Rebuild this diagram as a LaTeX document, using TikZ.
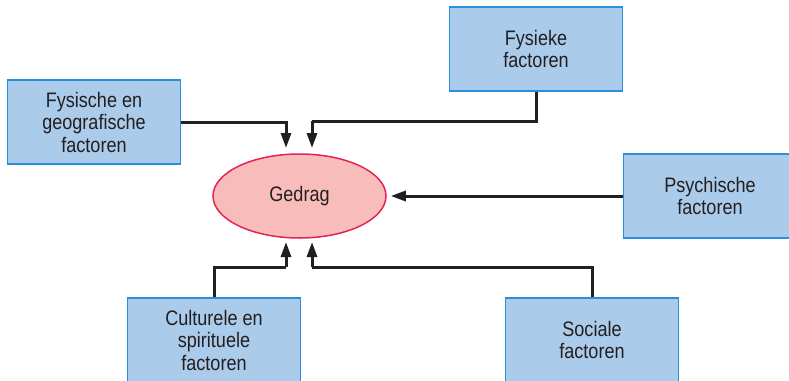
\documentclass[tikz,border=0pt]{standalone}
\usepackage{fontspec}
\setmainfont[FakeStretch=0.86]{Liberation Sans}
\usetikzlibrary{shapes.geometric,arrows.meta}
\definecolor{boxfill}{HTML}{ABCBEA}
\definecolor{boxline}{HTML}{2A8FD6}
\definecolor{ellfill}{HTML}{F8BDBA}
\definecolor{ellline}{HTML}{E3245A}
\definecolor{ink}{HTML}{231F20}
\tikzset{
  factor/.style={draw=boxline, fill=boxfill, line width=1.5pt, minimum width=173pt, minimum height=84pt,
    inner sep=0pt, align=center, text=ink, font=\fontsize{21}{22.5}\selectfont},
  gedrag/.style={ellipse, draw=ellline, fill=ellfill, line width=1.5pt, minimum width=173pt, minimum height=84pt,
    inner sep=0pt, text=ink, font=\fontsize{21}{22.5}\selectfont},
  arr/.style={draw=ink, line width=3pt, -{Triangle[length=15pt,width=10pt]}},
  conn/.style={draw=ink, line width=3pt}
}
\begin{document}
\begin{tikzpicture}[x=1pt,y=-1pt]
\useasboundingbox (0,0) rectangle (789,380);
\node[gedrag] (e) at (299.5,196) {Gedrag};
\node[factor] (b1) at (94,122) {Fysische en\\geografische\\factoren};
\node[factor] (b2) at (536,49) {Fysieke\\factoren};
\node[factor] (b3) at (710,196) {Psychische\\factoren};
\node[factor] (b4) at (214,340) {Culturele en\\spirituele\\factoren};
\node[factor] (b5) at (592,340) {Sociale\\factoren};
\coordinate (t1) at (286,148);
\coordinate (t2) at (312,148);
\coordinate (k2) at (312,121);
\coordinate (t4) at (286,242);
\coordinate (k4) at (286,267);
\coordinate (t5) at (312,242);
\coordinate (k5) at (312,267);
\draw[arr] (b1.east) -| (t1);
\draw[conn] (b2.south) |- (k2);
\draw[arr] (k2) -- (t2);
\draw[arr, shorten >=4pt] (b3.west) -- (e.east);
\draw[conn] (b4.north) |- (k4);
\draw[arr] (k4) -- (t4);
\draw[conn] (b5.north) |- (k5);
\draw[arr] (k5) -- (t5);
\end{tikzpicture}
\end{document}
